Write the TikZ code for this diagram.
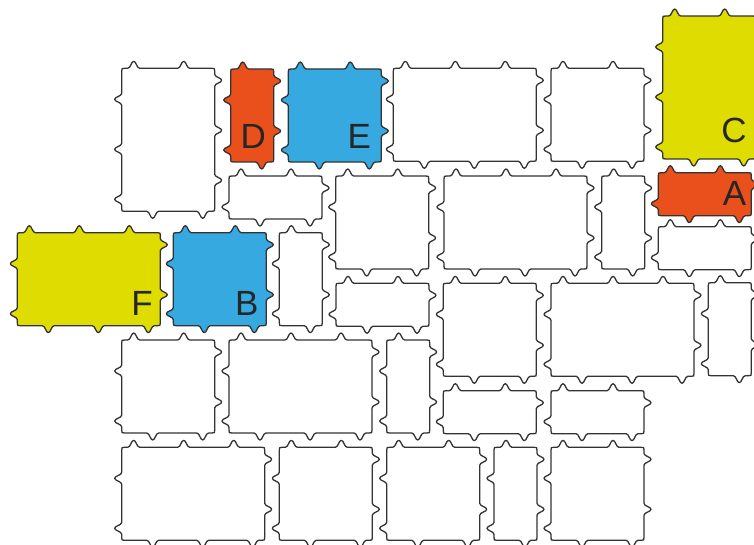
\documentclass[tikz,border=0pt]{standalone}
\usepackage{fontspec}
\setmainfont{Liberation Sans}
\usetikzlibrary{positioning}
\definecolor{tileyellow}{RGB}{222,220,0}
\definecolor{tileorange}{RGB}{234,80,27}
\definecolor{tileblue}{RGB}{54,169,224}
% one tile: left, top, units across, units down, fill
\newcommand{\tile}[5]{%
  \pgfmathsetmacro{\tilew}{50*#3-7}%
  \pgfmathsetmacro{\tileh}{50*#4-7}%
  \pgfmathtruncatemacro{\tilemx}{#3-1}%
  \pgfmathtruncatemacro{\tilemy}{#4-1}%
  \begin{scope}[shift={(#1,#2)}]
  \draw[tile,fill=#5] (3,0)
    \foreach \k in {0,...,\tilemx}{ -- ({6+50*\k},0) .. controls ({9+50*\k},0) and ({9.5+50*\k},-7) .. ({12+50*\k},-7) .. controls ({14.5+50*\k},-7) and ({15+50*\k},0) .. ({18+50*\k},0)}
    -- ({\tilew-3},0) .. controls (\tilew,0) .. (\tilew,3)
    \foreach \k in {0,...,\tilemy}{ -- (\tilew,{6+50*\k}) .. controls (\tilew,{9+50*\k}) and ({\tilew+7},{9.5+50*\k}) .. ({\tilew+7},{12+50*\k}) .. controls ({\tilew+7},{14.5+50*\k}) and (\tilew,{15+50*\k}) .. (\tilew,{18+50*\k})}
    -- (\tilew,{\tileh-3}) .. controls (\tilew,\tileh) .. ({\tilew-3},\tileh)
    \foreach \k in {0,...,\tilemx}{ -- ({\tilew-6-50*\k},\tileh) .. controls ({\tilew-9-50*\k},\tileh) and ({\tilew-9.5-50*\k},{\tileh+7}) .. ({\tilew-12-50*\k},{\tileh+7}) .. controls ({\tilew-14.5-50*\k},{\tileh+7}) and ({\tilew-15-50*\k},\tileh) .. ({\tilew-18-50*\k},\tileh)}
    -- (3,\tileh) .. controls (0,\tileh) .. (0,{\tileh-3})
    \foreach \k in {0,...,\tilemy}{ -- (0,{\tileh-6-50*\k}) .. controls (0,{\tileh-9-50*\k}) and (-7,{\tileh-9.5-50*\k}) .. (-7,{\tileh-12-50*\k}) .. controls (-7,{\tileh-14.5-50*\k}) and (0,{\tileh-15-50*\k}) .. (0,{\tileh-18-50*\k})}
    -- (0,3) .. controls (0,0) .. (3,0) -- cycle;
  \end{scope}}

\begin{document}
\begin{tikzpicture}[x=1pt,y=-1pt]
\tikzstyle{tile}=[draw=black!80,line width=1.3pt,line join=round]
\tikzstyle{lbl}=[font=\fontsize{35}{35}\selectfont,text=black!85,inner sep=0pt]
\useasboundingbox (0,0) rectangle (754,545);
% top row
\foreach \x/\y/\nx/\ny/\c in {121.7/68.3/2/3/white,230.7/69/1/2/tileorange,288.3/69/2/2/tileblue,393.3/68.3/3/2/white,551/68.3/2/2/white,662.7/16/2/3/tileyellow}
  {\tile{\x}{\y}{\nx}{\ny}{\c}}
% second row
\foreach \x/\y/\nx/\ny/\c in {229/176/2/1/white,335.7/176/2/2/white,444/176/3/2/white,601.7/176/1/2/white,658.3/172.7/2/1/tileorange,658.3/226.7/2/1/white}
  {\tile{\x}{\y}{\nx}{\ny}{\c}}
% third row
\foreach \x/\y/\nx/\ny/\c in {17.3/232.7/3/2/tileyellow,173.3/232.7/2/2/tileblue,279.3/232.7/1/2/white,336/283.3/2/1/white,443.3/283.3/2/2/white,551/283.3/3/2/white,708.3/282.7/1/2/white}
  {\tile{\x}{\y}{\nx}{\ny}{\c}}
% fourth and fifth rows
\foreach \x/\y/\nx/\ny/\c in {121.7/340/2/2/white,229/340/3/2/white,386.7/340/1/2/white,443.3/390.7/2/1/white,551/390.7/2/1/white,121.7/447.3/3/2/white,279.3/447.3/2/2/white,386.7/447.3/2/2/white,494/447.3/1/2/white,551/447.3/2/2/white}
  {\tile{\x}{\y}{\nx}{\ny}{\c}}
% labels
\node[lbl] (labD) at (253.3,136.3) {D};
\node[lbl] (labE) at (359.3,136) {E};
\node[lbl] (labC) at (734,130.5) {C};
\node[lbl] (labA) at (734.5,193.5) {A};
\node[lbl] (labF) at (142,303) {F};
\node[lbl] (labB) at (246.7,303.3) {B};
\end{tikzpicture}
\end{document}
